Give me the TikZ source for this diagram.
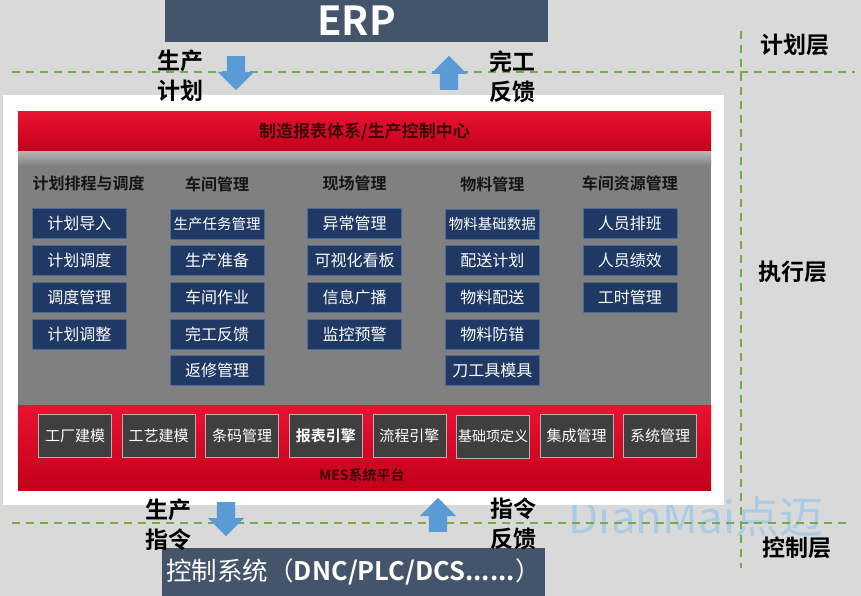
\documentclass[tikz,border=0pt]{standalone}
\usepackage{fontspec}
\setmainfont{Noto Sans CJK SC}[BoldFont={Noto Sans CJK SC Bold}]
\usetikzlibrary{positioning,matrix,shapes.arrows}

\definecolor{bggray}{HTML}{D9D9D9}
\definecolor{slate}{HTML}{44546A}
\definecolor{dashgreen}{HTML}{70AD47}
\definecolor{arrowblue}{HTML}{5B9BD5}
\definecolor{navy}{HTML}{1F3864}
\definecolor{navyedge}{HTML}{4A6A9A}
\definecolor{panelgray}{HTML}{808080}
\definecolor{tilegray}{HTML}{3F3F3F}
\definecolor{redtop}{HTML}{EA1230}
\definecolor{redbot}{HTML}{C2001B}
\definecolor{darktext}{HTML}{151515}
\definecolor{maroon}{HTML}{3A0808}
\definecolor{marktext}{HTML}{A9CBE6}

\begin{document}
\begin{tikzpicture}[x=1pt,y=-1pt,
  lbl/.style={font=\bfseries\fontsize{23}{30}\selectfont, align=center, inner sep=0pt},
  flow/.style={single arrow, fill=arrowblue, inner sep=9pt, minimum height=34pt,
    single arrow head extend=9pt, anchor=tail},
  sysbox/.style={fill=slate, text=white, inner sep=0pt, minimum width=383pt},
  redbar/.style={top color=redtop, bottom color=redbot},
  colhead/.style={font=\bfseries\fontsize{16}{18}\selectfont, text=darktext, inner sep=0pt},
  modbox/.style={fill=navy, draw=navyedge, line width=0.6pt, text=white,
    font=\fontsize{16}{18}\selectfont, minimum width=94pt, minimum height=30pt, inner sep=1pt},
  tile/.style={fill=tilegray, draw=gray!60, line width=0.6pt, text=white,
    font=\fontsize{15}{18}\selectfont, minimum width=73pt, minimum height=43pt, inner sep=0pt},
  dashline/.style={draw=dashgreen, line width=1.6pt, dash pattern=on 8pt off 6pt}
]
\fill[bggray] (0,0) rectangle (861,596);
\useasboundingbox (0,0) rectangle (861,596);

% watermark and layer lines
\node[font=\fontsize{44}{44}\selectfont, text=marktext] (mark) at (696,517) {DianMai点迈};
\draw[dashline] (12,72) -- (855,72);
\draw[dashline] (12,523) -- (848,523);
\draw[dashline] (741,31) -- (741,568);

\node[lbl] (planLayer) at (795,45) {计划层};
\node[lbl] (execLayer) at (793,272) {执行层};
\node[lbl] (ctrlLayer) at (797,548) {控制层};

% ERP and control system
\node[sysbox, minimum height=42pt, font=\bfseries\fontsize{40}{40}\selectfont] (erp) at (356.5,21) {ERP};
\node[sysbox, minimum height=48pt, font=\fontsize{25.5}{26}\selectfont] (ctl) at (353.5,572)
  {控制系统（\textbf{DNC/PLC/DCS......}）};

% MES panel
\fill[white] (3,95) rectangle (724,505);
\shade[redbar] (18,112) rectangle (711,152);
\fill[panelgray] (18,152) rectangle (711,405);
\shade[top color=gray!60, bottom color=panelgray] (18,152) rectangle (711,166);
\shade[redbar] (18,405) rectangle (711,490);
\node[font=\bfseries\fontsize{17}{17}\selectfont, text=maroon] (center) at (364.5,132) {制造报表体系/生产控制中心};
\node[font=\bfseries\fontsize{14}{14}\selectfont, text=maroon] (mes) at (362,475) {MES系统平台};

\matrix (M) [matrix of nodes, nodes={modbox}, column sep=43pt, row sep=6pt,
  inner sep=0pt, anchor=north west] at (32,208)
{
  计划导入 & |[font=\fontsize{14.5}{18}\selectfont]|生产任务管理 & 异常管理 & |[font=\fontsize{14.5}{18}\selectfont]|物料基础数据 & 人员排班\\
  计划调度 & 生产准备 & 可视化看板 & 配送计划 & 人员绩效\\
  调度管理 & 车间作业 & 信息广播 & 物料配送 & 工时管理\\
  计划调整 & 完工反馈 & 监控预警 & 物料防错 & \\
  & 返修管理 & & 刀工具模具 & \\
};
\node[colhead, above=17pt of M-1-1, xshift=9pt] (h1) {计划排程与调度};
\node[colhead, above=17pt of M-1-2] (h2) {车间管理};
\node[colhead, above=17pt of M-1-3] (h3) {现场管理};
\node[colhead, above=17pt of M-1-4] (h4) {物料管理};
\node[colhead, above=17pt of M-1-5] (h5) {车间资源管理};

\matrix (T) [matrix of nodes, nodes={tile}, column sep=10pt, inner sep=0pt,
  anchor=north west] at (38,414)
{
  工厂建模 & 工艺建模 & 条码管理 & |[font=\bfseries\fontsize{15}{18}\selectfont]|报表引擎 & 流程引擎 & |[font=\fontsize{14}{18}\selectfont]|基础项定义 & 集成管理 & 系统管理\\
};

% flows between layers
\node[flow, shape border rotate=270] (planDown) at (236,56) {};
\node[flow, shape border rotate=90] (doneUp) at (449,90) {};
\node[flow, shape border rotate=270] (cmdDown) at (226,502) {};
\node[flow, shape border rotate=90] (cmdUp) at (438,532) {};

\node[lbl] (planLbl) at (180,76) {生产\\计划};
\node[lbl] (doneLbl) at (512,77) {完工\\反馈};
\node[lbl] (cmdLbl) at (168,525) {生产\\指令};
\node[lbl] (fbLbl) at (513,524) {指令\\反馈};
\end{tikzpicture}
\end{document}
